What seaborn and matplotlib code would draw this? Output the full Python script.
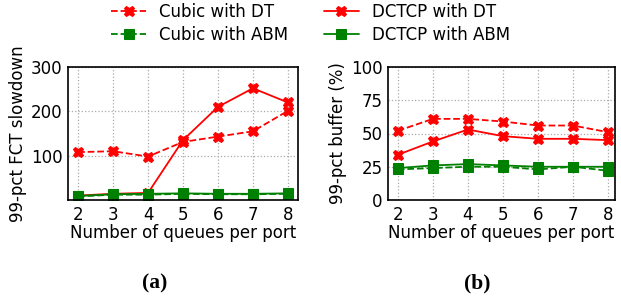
import matplotlib
matplotlib.use("Agg")
import matplotlib.pyplot as plt
import seaborn as sns
import pandas as pd

queues = [2, 3, 4, 5, 6, 7, 8]
fct_cubic_dt = [108, 110, 98, 131, 143, 155, 201]
fct_dctcp_dt = [10, 14, 16, 135, 210, 252, 220]
fct_cubic_abm = [8, 12, 12, 14, 13, 13, 14]
fct_dctcp_abm = [9, 13, 14, 15, 14, 14, 15]

buf_cubic_dt = [52, 61, 61, 59, 56, 56, 51]
buf_dctcp_dt = [34, 44, 53, 48, 46, 46, 45]
buf_cubic_abm = [23, 24, 25, 25, 23, 25, 22]
buf_dctcp_abm = [24, 26, 27, 26, 25, 25, 25]

series_names = ["Cubic with DT", "DCTCP with DT", "Cubic with ABM", "DCTCP with ABM"]
styles = {
    "Cubic with DT": dict(color="red", marker="X", ls="--", ms=7.5),
    "DCTCP with DT": dict(color="red", marker="X", ls="-", ms=7.5),
    "Cubic with ABM": dict(color="green", marker="s", ls="--", ms=6.5),
    "DCTCP with ABM": dict(color="green", marker="s", ls="-", ms=6.5),
}

sns.set_style("ticks", {"axes.edgecolor": "black", "text.color": "black",
                        "axes.labelcolor": "black", "xtick.color": "black",
                        "ytick.color": "black"})
plt.rcParams["font.family"] = ["DejaVu Sans"]

fig = plt.figure(figsize=(6.21, 3.0), dpi=100)
ax1 = fig.add_axes([68/621, 1-200/300, 230/621, 133/300])
ax2 = fig.add_axes([388/621, 1-200/300, 227/621, 133/300])

def draw(ax, data):
    for name, vals in zip(series_names, data):
        st = styles[name]
        df = pd.DataFrame({"q": queues, "v": vals})
        sns.lineplot(data=df, x="q", y="v", ax=ax, color=st["color"], marker=st["marker"],
                     linestyle=st["ls"], markersize=st["ms"], markeredgecolor=st["color"],
                     linewidth=1.3, label=name, legend=False)
    ax.grid(True, color="#aaaaaa", linestyle=":", linewidth=0.9)
    ax.set_xticks(queues)
    ax.set_xlabel("Number of queues per port", fontsize=12, labelpad=0)
    ax.tick_params(labelsize=12, length=0, pad=4)
    for s in ax.spines.values():
        s.set_linewidth(1.2)

draw(ax1, [fct_cubic_dt, fct_dctcp_dt, fct_cubic_abm, fct_dctcp_abm])
ax1.set_xlim(1.71, 8.29)
ax1.set_ylim(0, 300)
ax1.set_yticks([100, 200, 300])
ax1.set_ylabel("99-pct FCT slowdown", fontsize=12, labelpad=3)

draw(ax2, [buf_cubic_dt, buf_dctcp_dt, buf_cubic_abm, buf_dctcp_abm])
ax2.set_xlim(1.72, 8.2)
ax2.set_ylim(0, 100)
ax2.set_yticks([0, 25, 50, 75, 100])
ax2.set_ylabel("99-pct buffer (%)", fontsize=12, labelpad=3)

h, l = ax1.get_legend_handles_labels()
order = [0, 2, 1, 3]
fig.legend([h[i] for i in order], [l[i] for i in order], ncol=2, loc="upper center",
           bbox_to_anchor=(0.5, 1.04), frameon=False, fontsize=12, handlelength=2.1,
           columnspacing=2.1, labelspacing=0.3, handletextpad=0.8)

fig.text(155/621, 1-283/300, "(a)", ha="center", va="center", fontsize=15.5,
         fontweight="bold", family="Liberation Serif")
fig.text(477/621, 1-283/300, "(b)", ha="center", va="center", fontsize=15.5,
         fontweight="bold", family="Liberation Serif")

fig.savefig("out.png", dpi=100)
